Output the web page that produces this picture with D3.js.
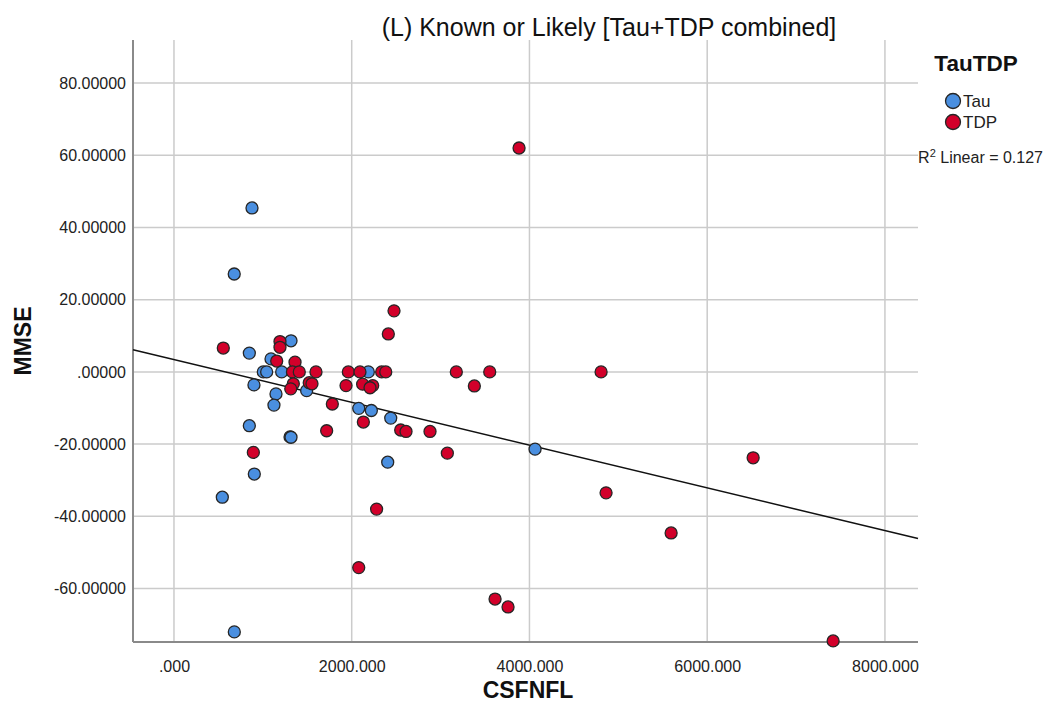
<!DOCTYPE html>
<html>
<head>
<meta charset="utf-8">
<script src="https://cdn.jsdelivr.net/npm/d3@7"></script>
<style>
  body { margin: 0; background: #fff; }
  text { font-family: "Liberation Sans", Arial, sans-serif; }
</style>
</head>
<body>
<div id="chart"></div>
<script>
// values
const tauX = [878, 678, 848, 1092, 1317, 1005, 1043, 1212, 900, 1493, 1148, 1125, 848, 1306, 1317, 904, 544, 679, 2079, 2221, 2439, 2405, 2187, 4063];
const tauY = [45.4, 27.1, 5.2, 3.6, 8.6, 0, 0, 0, -3.6, -5.2, -6.1, -9.2, -14.9, -18.0, -18.1, -28.3, -34.7, -72.0, -10.1, -10.7, -12.8, -25.0, 0, -21.4];

const tdpX = [555, 1193, 1193, 1156, 1362, 1333, 1410, 1598, 1343, 1314, 1522, 1553, 1718, 893, 1782, 1962, 2093, 2337, 2383, 3177, 3553, 1936, 2123, 2236, 2206, 3380, 2131, 2551, 2611, 2881, 2476, 2412, 3883, 4806, 4862, 5594, 6517, 7417, 3613, 3759, 3076, 2280, 2079];
const tdpY = [6.6, 8.4, 6.8, 3.0, 2.7, 0, 0, 0, -3.3, -4.7, -3.0, -3.3, -16.3, -22.3, -8.9, 0, 0, 0, 0, 0, 0, -3.8, -3.4, -3.8, -4.4, -3.9, -13.9, -16.1, -16.5, -16.5, 16.9, 10.5, 62.0, 0, -33.5, -44.6, -23.8, -74.5, -62.9, -65.1, -22.5, -38.0, -54.2];

const xTicks = [0, 2000, 4000, 6000, 8000];
const yTicks = [-60, -40, -20, 0, 20, 40, 60, 80];

// linear fit line (R2 = 0.127)
const fitIntercept = 3.4;
const fitSlope = -0.00592;
const fitLabel = "0.127";

const groups = ["Tau", "TDP"];
const colors = { Tau: "#4a8fe0", TDP: "#d2002a" };

const W = 1048, H = 715;
const plotL = 133, plotR = 918, plotT = 40, plotB = 642;

const svg = d3.select("#chart").append("svg")
  .attr("width", W).attr("height", H);

const x = d3.scaleLinear().domain([-461, 8372]).range([plotL, plotR]);
const y = d3.scaleLinear().domain([-74.8, 91.9]).range([plotB, plotT]);

const loc = d3.formatLocale({ decimal: ".", thousands: "", grouping: [3], currency: ["", ""], minus: "-" });
const fmtX = v => v === 0 ? ".000" : loc.format(".3f")(v);
const fmtY = v => v === 0 ? ".00000" : loc.format(".5f")(v);

// grid
svg.append("g").selectAll("line").data(xTicks).enter().append("line")
  .attr("x1", d => x(d)).attr("x2", d => x(d))
  .attr("y1", plotT).attr("y2", plotB)
  .attr("stroke", "#cbcbcb").attr("stroke-width", 1.5);
svg.append("g").selectAll("line").data(yTicks).enter().append("line")
  .attr("x1", plotL).attr("x2", plotR)
  .attr("y1", d => y(d)).attr("y2", d => y(d))
  .attr("stroke", "#cbcbcb").attr("stroke-width", 1.5);

// axes
const xAxis = svg.append("g").attr("transform", `translate(0,${plotB})`)
  .call(d3.axisBottom(x).tickValues(xTicks).tickFormat(fmtX).tickSize(0).tickPadding(19));
const yAxis = svg.append("g").attr("transform", `translate(${plotL},0)`)
  .call(d3.axisLeft(y).tickValues(yTicks).tickFormat(fmtY).tickSize(0).tickPadding(7));
[xAxis, yAxis].forEach(a => {
  a.select(".domain").attr("stroke", "#8a8a8a").attr("stroke-width", 2);
  a.selectAll("text").attr("font-size", 16).attr("fill", "#222")
    .attr("font-family", "Liberation Sans, Arial, sans-serif");
});
yAxis.select(".domain").attr("d", `M0,${plotT}V${plotB}`);
xAxis.select(".domain").attr("d", `M${plotL},0H${plotR}`);

// fit line
const fx = x.domain();
svg.append("line")
  .attr("x1", x(fx[0])).attr("y1", y(fitIntercept + fitSlope * fx[0]))
  .attr("x2", x(fx[1])).attr("y2", y(fitIntercept + fitSlope * fx[1]))
  .attr("stroke", "#111").attr("stroke-width", 1.5);

// points
const pts = [
  ...tauX.map((v, i) => ({ g: "Tau", x: v, y: tauY[i] })),
  ...tdpX.map((v, i) => ({ g: "TDP", x: v, y: tdpY[i] }))
];
svg.append("g").selectAll("circle").data(pts).enter().append("circle")
  .attr("cx", d => x(d.x)).attr("cy", d => y(d.y)).attr("r", 6)
  .attr("fill", d => colors[d.g]).attr("stroke", "#262626").attr("stroke-width", 1.3);

// title and axis labels
svg.append("text").attr("x", 609).attr("y", 36).attr("text-anchor", "middle")
  .attr("font-size", 25).attr("fill", "#111").text("(L) Known or Likely [Tau+TDP combined]");
svg.append("text").attr("x", 528).attr("y", 698).attr("text-anchor", "middle")
  .attr("font-size", 23).attr("font-weight", "bold").attr("fill", "#111").text("CSFNFL");
svg.append("text").attr("transform", "translate(31,341) rotate(-90)").attr("text-anchor", "middle")
  .attr("font-size", 23).attr("font-weight", "bold").attr("fill", "#111").text("MMSE");

// legend
svg.append("text").attr("x", 976).attr("y", 71).attr("text-anchor", "middle")
  .attr("font-size", 22.5).attr("font-weight", "bold").attr("fill", "#111").text("TauTDP");
const leg = svg.append("g").selectAll("g").data(groups).enter().append("g")
  .attr("transform", (d, i) => `translate(953,${101 + i * 21})`);
leg.append("circle").attr("r", 7.5).attr("fill", d => colors[d])
  .attr("stroke", "#262626").attr("stroke-width", 1.3);
leg.append("text").attr("x", 10).attr("y", 6).attr("font-size", 17).attr("fill", "#222").text(d => d);

const r2 = svg.append("text").attr("x", 1043).attr("y", 163).attr("text-anchor", "end")
  .attr("font-size", 16).attr("fill", "#222");
r2.append("tspan").text("R");
r2.append("tspan").attr("font-size", 11).attr("dy", -6).text("2");
r2.append("tspan").attr("dy", 6).text(" Linear = " + fitLabel);
</script>
</body>
</html>
